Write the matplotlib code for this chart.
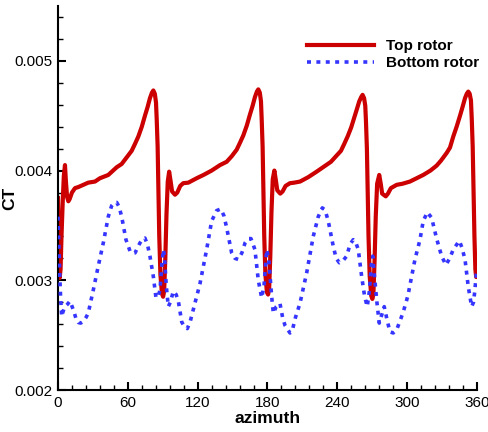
import matplotlib
matplotlib.use("Agg")
import matplotlib.pyplot as plt
from matplotlib.ticker import MultipleLocator, FormatStrFormatter

plt.rcParams["font.family"] = ["Liberation Sans", "DejaVu Sans"]

# -------------------------------------------------
# Data (azimuth in deg, CT in units of 1e-3)
# -------------------------------------------------
top_az = [0, 0.7, 1.4, 2.2, 3.0, 4.0, 5.0, 6.0, 6.8, 7.8, 8.9, 10, 12, 14.6, 17.5,
          21.7, 26, 31.8, 36, 43.2, 50.4, 54.7, 59, 63.3, 66, 69, 72, 74.7, 77, 79,
          80.7, 81.9, 83.2, 84.2, 84.8, 85.6, 86.2, 87, 88, 89.3, 90.3,
          91.2, 92.2, 93.2, 94.3, 95.5, 96.8, 98, 100.5, 102.5, 105, 107.6, 112,
          119.1, 125, 132, 139.2, 144.9, 149.2, 153.5, 156.2, 159.2, 162.2, 164.9,
          167.2, 169.2, 170.9, 172.1, 173.4, 174.4, 175.0, 175.8, 176.4, 177.2,
          178.2, 179.5, 180.5,
          181.4, 182.4, 183.4, 184.5, 185.9, 187.2, 188.4, 191, 193, 195.5, 199.3,
          203, 208, 215, 222.2, 229, 234.5, 238.8, 243.1, 245.8, 248.8, 251.8,
          254.5, 256.8, 258.8, 260.5, 261.7, 263.0, 264.0, 264.6, 265.4, 266.0,
          266.8, 267.8, 269.1, 270.1,
          271, 272, 273, 274.2, 276, 277.3, 278.5, 281.6, 283.5, 286, 291, 296,
          302.4, 308, 313.8, 320, 325.3, 329, 333.9, 336.8, 339.6, 342.5, 345.4,
          347.6, 349.7, 351.2, 352.5, 353.7, 354.8, 355.5, 356.3, 357.0, 357.8,
          358.6, 359.3, 360]
top_ct = [3.75, 3.30, 3.02, 3.10, 3.40, 3.70, 3.95, 4.05, 3.90, 3.76, 3.72, 3.74, 3.80, 3.84, 3.85,
          3.87, 3.89, 3.90, 3.93, 3.96, 4.03, 4.06, 4.12, 4.18, 4.24, 4.31, 4.40, 4.50, 4.58, 4.66,
          4.71, 4.73, 4.70, 4.62, 4.47, 4.22, 3.86, 3.40, 3.05, 2.88, 2.85,
          2.90, 3.20, 3.60, 3.90, 3.99, 3.90, 3.81, 3.78, 3.80, 3.86, 3.885, 3.89,
          3.93, 3.96, 4.00, 4.05, 4.08, 4.13, 4.19, 4.25, 4.32, 4.41, 4.51,
          4.59, 4.67, 4.72, 4.74, 4.71, 4.63, 4.47, 4.22, 3.86, 3.40,
          3.05, 2.89, 2.87,
          2.92, 3.22, 3.62, 3.92, 4.00, 3.91, 3.82, 3.79, 3.81, 3.86, 3.885,
          3.89, 3.90, 3.94, 3.99, 4.04, 4.08, 4.13, 4.18, 4.24, 4.31, 4.39,
          4.48, 4.56, 4.63, 4.67, 4.69, 4.66, 4.59, 4.45, 4.20, 3.85,
          3.40, 3.04, 2.86, 2.83,
          2.88, 3.18, 3.58, 3.88, 3.96, 3.88, 3.79, 3.765, 3.79, 3.84, 3.87, 3.88,
          3.90, 3.93, 3.96, 4.00, 4.045, 4.09, 4.16, 4.21, 4.31, 4.40, 4.50,
          4.58, 4.66, 4.70, 4.72, 4.70, 4.64, 4.47, 4.22, 3.86, 3.40,
          3.10, 3.03, 3.03]

bottom_az = [0, 0.8, 1.5, 2.2, 3.2, 4.5, 6, 8, 10.3, 13.2, 15.5, 17.5, 19.5, 21.7, 24,
             26, 28, 30.3, 34.6, 38.9, 43.2, 46.1, 48.5, 50.4, 52.5, 54.7, 58.4, 61.9,
             64, 66.2, 70.4, 73, 74.7, 77, 79, 81.9, 84.2, 86, 87.6, 89.3, 90.5, 91.5,
             93, 94.8, 96.5, 99.1, 101.5, 103.4, 106.3, 109, 111.1, 113.5, 116.2, 122,
             127.7, 132, 136.3, 139.8, 142.5, 144.9, 149.2, 152, 154.9, 158, 160.7,
             163.5, 165.8, 169.2, 172.1, 175, 177, 179.3, 181, 183.6, 185, 187.5,
             190.7, 193, 195, 199.3, 201, 204, 207.9, 213.7, 219.3, 223.6, 227.1,
             229.5, 232.2, 236.5, 239, 241.7, 245, 248, 251, 253.7, 256, 258, 260.9,
             263.5, 265.7, 267.5, 269.3, 270.4, 271.8, 274, 276, 278, 280.3, 282.5,
             285.2, 288, 291, 293.5, 296.6, 299.6, 301, 306.7, 311, 313.8, 317.3,
             321, 325.3, 329.6, 333.3, 336.5, 339.6, 344.8, 347, 349.7, 352.5, 355.4,
             357, 358.2, 359.3, 360]
bottom_ct = [3.58, 3.30, 3.05, 2.85, 2.67, 2.72, 2.76, 2.78, 2.81, 2.73, 2.65, 2.615, 2.61, 2.625, 2.66,
             2.70, 2.80, 2.91, 3.13, 3.34, 3.58, 3.68, 3.71, 3.71, 3.67, 3.58, 3.37, 3.265,
             3.245, 3.25, 3.34, 3.38, 3.385, 3.32, 3.22, 3.035, 2.84, 2.85, 2.91, 3.15, 3.28, 3.22,
             2.95, 2.76, 2.80, 2.90, 2.87, 2.81, 2.62, 2.57, 2.56, 2.62, 2.73, 2.97,
             3.28, 3.54, 3.635, 3.65, 3.59, 3.48, 3.25, 3.20, 3.19, 3.25, 3.34,
             3.38, 3.38, 3.28, 3.00, 2.84, 2.95, 3.28, 3.20, 2.85, 2.70, 2.76,
             2.79, 2.66, 2.59, 2.52, 2.53, 2.66, 2.79, 3.07, 3.40, 3.58, 3.66,
             3.64, 3.54, 3.31, 3.20, 3.16, 3.18, 3.22, 3.33, 3.37, 3.34, 3.28, 3.035,
             2.85, 2.76, 2.90, 3.15, 3.22, 3.05, 2.80, 2.61, 2.68, 2.76, 2.65,
             2.53, 2.52, 2.55, 2.62, 2.71, 2.82, 2.88, 3.19, 3.37, 3.54, 3.62,
             3.57, 3.38, 3.22, 3.14, 3.20, 3.28, 3.36, 3.30, 3.19, 2.94, 2.76,
             2.80, 2.91, 3.05, 3.07]

xticks = [0, 60, 120, 180, 240, 300, 360]
yticks = [0.002, 0.003, 0.004, 0.005]

# -------------------------------------------------
# Plot
# -------------------------------------------------
fig = plt.figure(figsize=(4.89, 4.32), dpi=100)
ax = fig.add_axes([58 / 489, 42 / 432, 419 / 489, 384 / 432])

ax.plot(top_az, [v * 1e-3 for v in top_ct], color="#cc0000", lw=3.0,
        label="Top rotor", zorder=2)
ax.plot(bottom_az, [v * 1e-3 for v in bottom_ct], color="#3535ff", lw=2.6,
        linestyle=(0, (1.1, 1.5)), label="Bottom rotor", zorder=3)

ax.set_xlim(0, 360)
ax.set_ylim(0.002, 0.0055)
ax.set_xticks(xticks)
ax.set_yticks(yticks)
ax.xaxis.set_minor_locator(MultipleLocator(12))
ax.yaxis.set_minor_locator(MultipleLocator(0.0002))
ax.yaxis.set_major_formatter(FormatStrFormatter("%.3f"))

for side in ["top", "right"]:
    ax.spines[side].set_visible(False)
for side in ["left", "bottom"]:
    ax.spines[side].set_linewidth(1.5)

ax.tick_params(which="major", direction="in", length=6, width=1.5, labelsize=11, pad=4)
ax.tick_params(which="minor", direction="in", length=3.5, width=1)

ax.set_xlabel("azimuth", fontsize=12.5, fontweight="bold", labelpad=1)
ax.set_ylabel("CT", fontsize=12.5, fontweight="bold")
ax.yaxis.set_label_coords(-0.098, 0.5)

ax.legend(loc="upper left", bbox_to_anchor=(307 / 489, 1 - 39 / 432),
          bbox_transform=fig.transFigure, frameon=False,
          prop={"size": 11, "weight": "bold"}, handlelength=4.4,
          handletextpad=0.8, labelspacing=0.2, borderpad=0, borderaxespad=0)

fig.savefig("out.png", dpi=100)
